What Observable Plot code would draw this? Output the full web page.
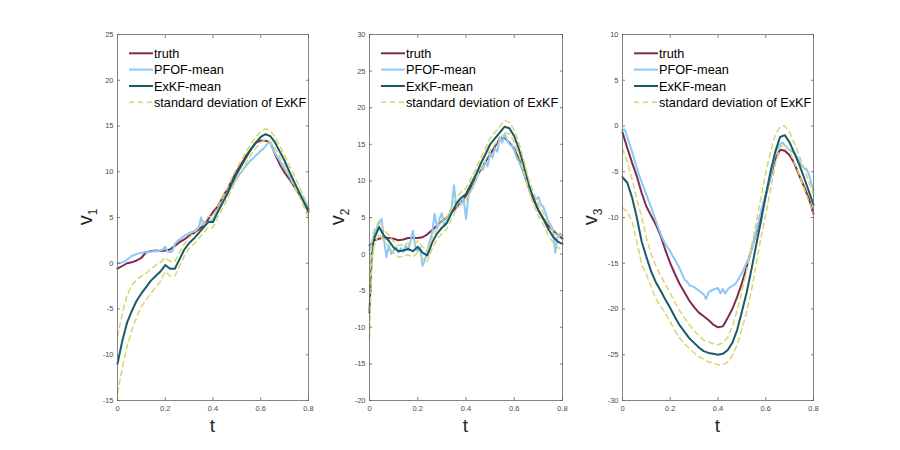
<!DOCTYPE html>
<html><head><meta charset="utf-8">
<script src="https://cdn.jsdelivr.net/npm/d3@7"></script>
<script src="https://cdn.jsdelivr.net/npm/@observablehq/plot@0.6"></script>
<style>
body{margin:0;background:#fff;}
#wrap{position:relative;width:900px;height:450px;overflow:hidden;background:#fff;}
#wrap svg{position:absolute;top:0;}
</style>
</head><body><div id="wrap"></div>
<script>
// ---------- data ----------
const seriesNames = ["truth", "PFOF-mean", "ExKF-mean", "standard deviation of ExKF"];
const xTicks = [0, 0.2, 0.4, 0.6, 0.8];
const xTickLabels = ["0", "0.2", "0.4", "0.6", "0.8"];
const yTicks1 = [-15, -10, -5, 0, 5, 10, 15, 20, 25];
const yTickLabels1 = ["-15", "-10", "-5", "0", "5", "10", "15", "20", "25"];
const yTicks2 = [-20, -15, -10, -5, 0, 5, 10, 15, 20, 25, 30];
const yTickLabels2 = ["-20", "-15", "-10", "-5", "0", "5", "10", "15", "20", "25", "30"];
const yTicks3 = [-30, -25, -20, -15, -10, -5, 0, 5, 10];
const yTickLabels3 = ["-30", "-25", "-20", "-15", "-10", "-5", "0", "5", "10"];

const tGrid = [0,0.02,0.04,0.06,0.08,0.1,0.12,0.14,0.16,0.18,0.2,0.22,0.24,0.26,0.28,0.3,0.32,0.34,0.36,0.38,0.4,0.42,0.44,0.46,0.48,0.5,0.52,0.54,0.56,0.58,0.6,0.62,0.64,0.66,0.68,0.7,0.72,0.74,0.76,0.78,0.8];
const tFine = [0,0.01,0.02,0.03,0.04,0.05,0.06,0.07,0.08,0.09,0.1,0.11,0.12,0.13,0.14,0.15,0.16,0.17,0.18,0.19,0.2,0.21,0.22,0.23,0.24,0.25,0.26,0.27,0.28,0.29,0.3,0.31,0.32,0.33,0.34,0.35,0.36,0.37,0.38,0.39,0.4,0.41,0.42,0.43,0.44,0.45,0.46,0.47,0.48,0.49,0.5,0.51,0.52,0.53,0.54,0.55,0.56,0.57,0.58,0.59,0.6,0.61,0.62,0.63,0.64,0.65,0.66,0.67,0.68,0.69,0.7,0.71,0.72,0.73,0.74,0.75,0.76,0.77,0.78,0.79,0.8];
const tStart2 = [0,0.005,0.01,0.015,0.02,0.04,0.06,0.08,0.1,0.12,0.14,0.16,0.18,0.2,0.22,0.24,0.26,0.28,0.3,0.32,0.34,0.36,0.38,0.4,0.42,0.44,0.46,0.48,0.5,0.52,0.54,0.56,0.58,0.6,0.62,0.64,0.66,0.68,0.7,0.72,0.74,0.76,0.78,0.8];

// panel 1 (v1)
const truth1 = [-0.6,-0.3,0.0,0.1,0.3,0.6,1.2,1.3,1.4,1.35,1.4,1.5,1.9,2.3,2.6,3.0,3.3,3.7,4.1,4.8,5.6,6.2,7.2,8.1,9.1,10.1,10.9,11.8,12.5,13.2,13.4,13.4,13.2,11.9,10.8,9.9,9.2,8.4,7.6,6.8,5.9];
const pfof1 = [0.0,0.0,0.1,0.2,0.4,0.6,0.8,0.9,1.0,1.1, 1.1,1.2,1.2,1.2,1.25,1.3,1.35,1.3,1.4,1.5, 1.8,1.3,1.2,1.3,2.1,2.4,2.6,2.8,3.0,3.1, 3.3,3.4,3.5,3.7,3.9,5.0,4.2,4.4,4.5,4.6, 4.8,5.3,5.7,6.1,6.6,7.1,7.6,8.0,8.4,8.9, 9.3,9.7,10.0,10.4,10.7,11.0,11.3,11.5,11.8,12.0, 12.3,12.5,12.8,13.1,13.2,12.5,12.0,11.6,11.2,10.7, 10.3,9.9,9.5,9.0,8.6,8.2,7.8,7.4,7.0,6.6, 6.2];
const exkf1 = [-11.0,-8.5,-6.5,-5.2,-4.1,-3.3,-2.6,-1.9,-1.4,-0.9,-0.2,-0.6,-0.6,0.45,1.5,2.2,2.7,3.3,3.9,4.5,4.5,5.6,6.6,7.6,8.8,9.8,10.7,11.6,12.5,13.2,13.8,14.1,13.9,13.2,12.2,11.2,10.0,8.9,7.8,6.7,5.6];
const upper1 = [-8.0,-5.5,-3.5,-2.4,-1.8,-1.4,-1.1,-0.6,-0.2,0.1,0.6,0.2,0.2,1.2,2.1,2.8,3.3,3.9,4.5,5.1,5.1,6.2,7.2,8.2,9.4,10.4,11.3,12.2,13.1,13.8,14.4,14.7,14.5,13.8,12.8,11.8,10.7,9.6,8.5,7.3,6.2];
const lower1 = [-14.2,-11.4,-9.1,-7.3,-5.9,-4.7,-4.0,-3.3,-2.6,-2.0,-0.9,-1.4,-1.4,-0.3,0.8,1.6,2.1,2.7,3.3,3.9,3.9,5.0,6.0,7.0,8.2,9.2,10.1,11.0,11.9,12.6,13.2,13.5,13.3,12.6,11.6,10.6,9.5,8.4,7.4,6.2,5.0];

// panel 2 (v2)
const truth2 = [1.2,1.3,1.5,1.7,1.9, 2.1,2.3,2.2,2.1,1.9,2.0,2.2,2.2,2.2,2.3,2.7,3.3,3.9,4.5,5.0,5.7,6.4,7.1,8.0,9.0,10.3,11.5,12.6,13.6,14.7,15.8,15.9,15.2,14.4,12.9,11.0,9.1,7.4,6.0,4.8,3.9,3.3,2.6,2.1];
const pfof2 = [0.5,1.5,2.8,3.5,4.3,4.8,2.0,-0.4,1.2,0.0, 0.5,1.0,0.2,0.8,0.3,1.2,0.6,1.8,3.2,1.0, 0.4,0.9,-1.6,-0.8,0.6,1.8,3.0,5.5,3.5,4.8, 5.6,3.8,4.5,5.2,6.3,9.4,6.5,7.4,6.8,7.6, 4.8,8.0,8.6,9.3,10.0,11.2,12.0,11.5,12.6,12.0, 13.8,13.2,14.5,14.0,16.0,15.2,16.4,15.6,15.0,14.8, 14.2,13.2,12.6,11.8,11.0,10.2,9.2,8.4,7.8,7.5, 7.8,6.8,6.5,5.6,4.6,4.0,3.4,0.2,2.4,2.8, 2.5];
const exkf2 = [-8.0,-3.5,0.0,1.5,2.2, 3.7,2.5,1.8,0.9,0.4,0.5,0.7,0.4,1.0,0.2,-0.2,1.6,2.8,3.6,4.2,5.6,6.9,7.7,8.2,9.5,10.8,12.3,13.6,15.0,15.8,16.6,17.4,17.2,16.1,14.3,12.0,9.5,7.6,6.0,4.9,3.5,2.4,1.7,1.4];
const upper2 = [-4.5,-1.5,1.5,2.8,3.3, 4.6,3.3,2.6,1.7,1.2,1.3,1.5,1.2,1.8,1.0,0.6,2.3,3.6,4.4,5.0,6.4,7.7,8.5,9.0,10.3,11.6,13.1,14.4,15.8,16.6,17.4,18.3,18.0,16.9,15.1,12.8,10.3,8.4,6.8,5.7,4.3,3.2,2.5,2.2];
const lower2 = [-11.5,-5.5,-1.5,0.3,1.2, 2.8,1.7,1.0,0.1,-0.4,-0.3,-0.1,-0.4,0.2,-0.6,-1.0,0.8,2.0,2.8,3.4,4.8,6.1,6.9,7.4,8.7,10.0,11.5,12.8,14.2,15.0,15.8,16.6,16.4,15.3,13.5,11.2,8.7,6.8,5.2,4.1,2.7,1.6,0.9,0.6];

// panel 3 (v3)
const truth3 = [-0.7,-2.4,-4.0,-5.5,-7.3,-8.8,-9.8,-10.8,-12.0,-13.6,-15.0,-16.2,-17.3,-18.2,-19.1,-19.8,-20.4,-20.8,-21.2,-21.7,-22.0,-21.9,-21.0,-20.0,-18.7,-17.2,-15.4,-13.5,-11.7,-9.7,-7.6,-5.6,-3.6,-2.6,-2.7,-3.2,-4.1,-5.4,-6.6,-7.9,-9.6];
const pfof3 = [-0.4,-0.4,-1.2,-2.0,-2.8,-3.7,-4.6,-5.4,-6.1,-6.8, -7.5,-8.2,-8.9,-9.6,-10.4,-11.1,-11.8,-12.4,-12.9,-13.3, -13.7,-14.2,-14.6,-15.1,-15.6,-16.2,-16.8,-17.0,-17.4,-17.5, -17.6,-17.8,-18.0,-18.2,-18.4,-18.9,-18.2,-18.0,-17.9,-17.8, -17.7,-18.3,-17.8,-18.3,-17.9,-17.6,-17.5,-17.3,-17.0,-16.5, -16.1,-15.5,-14.9,-14.4,-13.6,-12.6,-11.5,-10.5,-9.3,-8.3, -7.6,-6.6,-5.6,-4.2,-3.0,-2.4,-2.0,-1.8,-2.1,-2.4, -2.6,-2.8,-2.9,-3.3,-3.8,-4.3,-4.6,-4.7,-5.2,-6.2, -7.0];
const exkf3 = [-5.6,-6.2,-7.8,-10.0,-12.6,-14.3,-15.9,-17.1,-18.0,-19.0,-19.9,-20.9,-21.8,-22.5,-23.2,-23.7,-24.2,-24.6,-24.8,-24.9,-25.0,-24.9,-24.5,-23.7,-22.3,-20.3,-18.2,-15.7,-13.0,-10.4,-7.6,-5.0,-2.8,-1.2,-1.0,-1.8,-3.0,-4.2,-5.6,-7.1,-8.6];
const upper3 = [-2.5,-3.9,-5.8,-8.0,-9.9,-12.2,-14.0,-15.3,-16.4,-17.3,-18.3,-19.3,-20.2,-21.0,-21.7,-22.4,-22.9,-23.4,-23.6,-23.8,-23.9,-23.7,-23.1,-21.9,-20.2,-18.1,-15.8,-13.2,-10.6,-7.8,-5.1,-2.8,-1.0,-0.1,0.0,-0.7,-1.9,-3.2,-4.6,-6.0,-7.6];
const lower3 = [-8.9,-9.4,-10.4,-12.6,-15.1,-16.2,-17.6,-18.9,-19.7,-20.5,-21.4,-22.4,-23.2,-23.8,-24.3,-24.8,-25.2,-25.5,-25.8,-25.9,-26.1,-26.1,-25.8,-25.1,-23.9,-22.2,-20.3,-18.0,-15.1,-12.2,-9.7,-6.9,-4.2,-2.3,-2.0,-2.8,-4.0,-5.3,-6.8,-8.2,-9.6];

// ---------- styles ----------
const colors = {truth: "#7e2b4e", pfof: "#8dc8f7", exkf: "#195b68", sd: "#dcd46c"};
const axisColor = "#4a4a4a";
const font = "'Liberation Sans', Arial, Helvetica, sans-serif";

const panels = [
  {left: 40, width: 290, ml: 77, mr: 22, domain: [-15, 25], ticks: yTicks1, labels: yTickLabels1, sub: "1",
   truth: [tGrid, truth1], pfof: [tFine, pfof1], exkf: [tGrid, exkf1], upper: [tGrid, upper1], lower: [tGrid, lower1]},
  {left: 330, width: 255, ml: 39, mr: 23, domain: [-20, 30], ticks: yTicks2, labels: yTickLabels2, sub: "2",
   truth: [tStart2, truth2], pfof: [tFine, pfof2], exkf: [tStart2, exkf2], upper: [tStart2, upper2], lower: [tStart2, lower2]},
  {left: 585, width: 265, ml: 37, mr: 37, domain: [-30, 10], ticks: yTicks3, labels: yTickLabels3, sub: "3",
   truth: [tGrid, truth3], pfof: [tFine, pfof3], exkf: [tGrid, exkf3], upper: [tGrid, upper3], lower: [tGrid, lower3]}
];

const H = 450, MT = 34, MB = 50;
const wrap = document.getElementById("wrap");

for (const p of panels) {
  const lineOpts = (stroke, extra = {}) => ({stroke, strokeWidth: 2, strokeLinejoin: "round", ...extra});
  const svg = Plot.plot({
    width: p.width, height: H,
    marginLeft: p.ml, marginRight: p.mr, marginTop: MT, marginBottom: MB,
    style: {fontFamily: font, fontSize: "7.5px", background: "transparent", overflow: "visible", color: axisColor},
    x: {domain: [0, 0.8]},
    y: {domain: p.domain},
    marks: [
      Plot.lineY(p.truth[1], {x: p.truth[0], ...lineOpts(colors.truth)}),
      Plot.lineY(p.pfof[1], {x: p.pfof[0], ...lineOpts(colors.pfof)}),
      Plot.lineY(p.exkf[1], {x: p.exkf[0], ...lineOpts(colors.exkf)}),
      Plot.lineY(p.upper[1], {x: p.upper[0], stroke: colors.sd, strokeWidth: 1.5, strokeDasharray: "5,4"}),
      Plot.lineY(p.lower[1], {x: p.lower[0], stroke: colors.sd, strokeWidth: 1.5, strokeDasharray: "5,4"}),
      Plot.frame({stroke: "#666", strokeWidth: 0.8}),
      Plot.axisX({anchor: "bottom", ticks: xTicks, tickSize: -3, tickPadding: 8, label: null,
        tickFormat: d => xTickLabels[xTicks.indexOf(d)], stroke: "#666", strokeWidth: 0.8}),
      Plot.axisX({anchor: "top", ticks: xTicks, tickSize: -3, label: null, tickFormat: () => "", stroke: "#666", strokeWidth: 0.8}),
      Plot.axisY({anchor: "left", ticks: p.ticks, tickSize: -3, tickPadding: 7, label: null,
        tickFormat: d => p.labels[p.ticks.indexOf(d)], stroke: "#666", strokeWidth: 0.8}),
      Plot.axisY({anchor: "right", ticks: p.ticks, tickSize: -3, label: null, tickFormat: () => "", stroke: "#666", strokeWidth: 0.8})
    ]
  });
  svg.style.left = p.left + "px";
  wrap.appendChild(svg);

  const s = d3.select(svg);
  const x0 = p.ml, x1 = p.width - p.mr;
  // x label
  s.append("text").attr("x", (x0 + x1) / 2).attr("y", 432).attr("text-anchor", "middle")
    .attr("font-family", font).attr("font-size", 19).attr("fill", "#262626").text("t");
  // y label with subscript
  const yl = s.append("text").attr("transform", `translate(${x0 - 25},${(MT + H - MB) / 2}) rotate(-90)`)
    .attr("text-anchor", "middle").attr("font-family", font).attr("fill", "#262626");
  yl.append("tspan").attr("font-size", 20).text("v");
  yl.append("tspan").attr("font-size", 12).attr("dy", 5).text(p.sub);

  // legend
  const lg = s.append("g").attr("font-family", font).attr("font-size", 12.7).attr("fill", "#000")
    .attr("text-anchor", "start");
  const rows = [colors.truth, colors.pfof, colors.exkf, colors.sd];
  const rowY = [53.3, 69.6, 86, 102.3];
  seriesNames.forEach((name, i) => {
    lg.append("line").attr("x1", x0 + 12).attr("x2", x0 + 36).attr("y1", rowY[i]).attr("y2", rowY[i])
      .attr("stroke", rows[i]).attr("stroke-width", i === 3 ? 1.5 : 2)
      .attr("stroke-dasharray", i === 3 ? "5,4" : null);
    lg.append("text").attr("x", x0 + 37).attr("y", rowY[i]).attr("dy", "0.36em")
      .attr("text-anchor", "start").text(name);
  });
}
</script>
</body></html>
